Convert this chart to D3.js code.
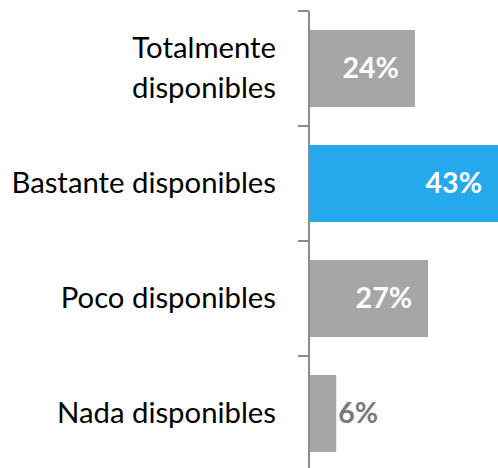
<!DOCTYPE html>
<html>
<head>
<meta charset="utf-8">
<script src="https://cdn.jsdelivr.net/npm/d3@7"></script>
<style>
  html, body { margin: 0; padding: 0; background: #fff; }
  svg { display: block; }
</style>
</head>
<body>
<svg id="chart" width="498" height="468"></svg>
<script>
// Availability categories, top to bottom
const categories = ["Totalmente disponibles", "Bastante disponibles", "Poco disponibles", "Nada disponibles"];
// Label lines for each category
const categoryLines = [["Totalmente", "disponibles"], ["Bastante disponibles"], ["Poco disponibles"], ["Nada disponibles"]];
// Share of respondents (%)
const values = [24, 43, 27, 6];
// Highlighted category
const highlighted = ["Bastante disponibles"];

const svg = d3.select("#chart");
const W = 498, H = 468;
const axisX = 309;

const x = d3.scaleLinear().domain([0, 43]).range([axisX + 1, W]);
const y = d3.scaleBand().domain(categories).range([11, 471])
  .paddingInner(0.33).paddingOuter(0.165);

const data = categories.map((c, i) => ({ cat: c, lines: categoryLines[i], value: values[i] }));

const grey = "#a6a6a6", blue = "#25a9ec";
const font = "Lato, 'Open Sans', sans-serif";

// Bars
svg.append("g").selectAll("rect").data(data).join("rect")
  .attr("x", x(0))
  .attr("y", d => y(d.cat))
  .attr("width", d => x(d.value) - x(0))
  .attr("height", y.bandwidth())
  .attr("fill", d => highlighted.includes(d.cat) ? blue : grey);

// Category axis: line with ticks between categories
const axis = svg.append("g");
const half = y.step() * y.paddingInner() / 2;
axis.append("line")
  .attr("x1", axisX).attr("x2", axisX)
  .attr("y1", y(categories[0]) - half).attr("y2", H)
  .attr("stroke", "#8c8c8c").attr("stroke-width", 2);
axis.selectAll("line.tick").data(categories).join("line")
  .attr("class", "tick")
  .attr("x1", axisX - 11).attr("x2", axisX)
  .attr("y1", d => y(d) - half).attr("y2", d => y(d) - half)
  .attr("stroke", "#8c8c8c").attr("stroke-width", 2);

// Category labels
const lineH = 40;
const labels = svg.append("g").selectAll("text").data(data).join("text")
  .attr("text-anchor", "end")
  .attr("font-family", font)
  .attr("font-size", 29.3)
  .attr("fill", "#000");
labels.each(function (d) {
  const t = d3.select(this);
  const cy = y(d.cat) + y.bandwidth() / 2;
  const n = d.lines.length;
  d.lines.forEach((s, k) => {
    t.append("tspan")
      .attr("x", 276)
      .attr("y", cy + (k - (n - 1) / 2) * lineH)
      .attr("dy", "0.33em")
      .text(s);
  });
});

// Value labels: inside the bar end, or just outside for short bars
const inside = d => x(d.value) - x(0) > 60;
svg.append("g").selectAll("text").data(data).join("text")
  .attr("x", d => inside(d) ? x(d.value) - 16 : x(d.value) + 2)
  .attr("y", d => y(d.cat) + y.bandwidth() / 2)
  .attr("dy", "0.35em")
  .attr("text-anchor", d => inside(d) ? "end" : "start")
  .attr("font-family", font)
  .attr("font-weight", "bold")
  .attr("font-size", 28.5)
  .attr("fill", d => inside(d) ? "#fff" : "#7a7a7a")
  .text(d => d.value + "%");
</script>
</body>
</html>
